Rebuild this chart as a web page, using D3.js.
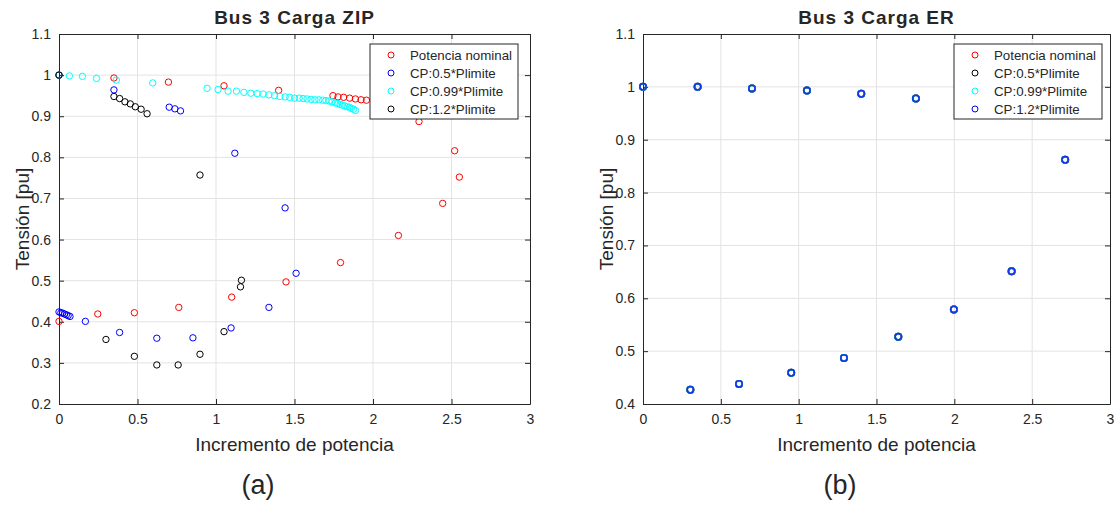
<!DOCTYPE html>
<html>
<head>
<meta charset="utf-8">
<script src="https://d3js.org/d3.v7.min.js"></script>
<style>
  body { margin: 0; background: #fff; }
  text { font-family: "Liberation Sans", Arial, sans-serif; fill: #262626; }
</style>
</head>
<body>
<div id="chart"></div>
<script>
var svgWidth = 1115;
var svgHeight = 505;

// legend labels
var seriesNames = ["Potencia nominal", "CP:0.5*Plimite", "CP:0.99*Plimite", "CP:1.2*Plimite"];
var zipColors = ["#ff0000", "#0000ff", "#00ffff", "#000000"];
var erColors = ["#ff0000", "#000000", "#00ffff", "#0000ff"];

var xTicks = [0, 0.5, 1, 1.5, 2, 2.5, 3];
var yTicksZip = [0.2, 0.3, 0.4, 0.5, 0.6, 0.7, 0.8, 0.9, 1, 1.1];
var yTicksEr = [0.4, 0.5, 0.6, 0.7, 0.8, 0.9, 1, 1.1];

// ZIP load - Potencia nominal
var nomX = [0, 0.35, 0.697, 1.051, 1.399, 1.745, 1.777, 1.813, 1.851, 1.888, 1.924, 1.958, 2.293, 2.52, 2.55, 2.444, 2.162, 1.793, 1.446, 1.10, 0.763, 0.48, 0.247, 0];
var nomY = [1.0, 0.993, 0.983, 0.974, 0.963, 0.950, 0.947, 0.946, 0.944, 0.942, 0.940, 0.939, 0.887, 0.816, 0.752, 0.688, 0.610, 0.544, 0.497, 0.460, 0.435, 0.422, 0.419, 0.401];

// ZIP load - CP 0.5
var cp05X = [0, 0.35, 0.702, 0.738, 0.774, 1.12, 1.44, 1.51, 1.337, 1.096, 0.853, 0.623, 0.386, 0.168, 0.07, 0.058, 0.047, 0.035, 0.023, 0.012, 0];
var cp05Y = [1.0, 0.964, 0.922, 0.918, 0.913, 0.810, 0.677, 0.518, 0.435, 0.385, 0.361, 0.360, 0.374, 0.401, 0.413, 0.415, 0.417, 0.419, 0.421, 0.422, 0.424];

// ZIP load - CP 0.99
var cp099X = [0, 0.066, 0.149, 0.239, 0.365, 0.597, 0.943, 1.013, 1.077, 1.13, 1.177, 1.222, 1.262, 1.30, 1.337, 1.373, 1.407, 1.44, 1.47, 1.50,
  1.53, 1.555, 1.58, 1.605, 1.63, 1.655, 1.68, 1.70, 1.72, 1.74, 1.76, 1.775, 1.79, 1.805, 1.82, 1.835, 1.85, 1.862, 1.875, 1.889];
var cp099Y = [1.0, 0.998, 0.997, 0.992, 0.988, 0.981, 0.968, 0.965, 0.961, 0.961, 0.958, 0.956, 0.955, 0.954, 0.952, 0.950, 0.948, 0.947, 0.946, 0.944,
  0.944, 0.943, 0.942, 0.941, 0.940, 0.940, 0.939, 0.938, 0.937, 0.935, 0.932, 0.931, 0.929, 0.927, 0.925, 0.923, 0.922, 0.919, 0.917, 0.914];

// ZIP load - CP 1.2
var cp12X = [0, 0.35, 0.386, 0.42, 0.454, 0.486, 0.523, 0.561, 0.898, 1.162, 1.156, 1.051, 0.898, 0.759, 0.623, 0.48, 0.299];
var cp12Y = [1.0, 0.948, 0.943, 0.935, 0.930, 0.923, 0.917, 0.906, 0.757, 0.501, 0.485, 0.376, 0.321, 0.295, 0.295, 0.316, 0.357];

// ER load - all four cases give the same curve
var erX = [0, 0.351, 0.70, 1.053, 1.402, 1.753, 2.712, 2.368, 1.997, 1.64, 1.291, 0.952, 0.617, 0.304];
var erY = [1.0, 1.0, 0.997, 0.993, 0.987, 0.978, 0.862, 0.651, 0.579, 0.527, 0.487, 0.459, 0.438, 0.427];

var svg = d3.select("#chart")
  .append("svg")
  .attr("width", svgWidth)
  .attr("height", svgHeight);

function zip(xs, ys) {
  return xs.map((x, i) => ({ x: x, y: ys[i] }));
}

function drawPanel(opt) {
  var g = svg.append("g")
    .attr("transform", `translate(${opt.left}, ${opt.top})`);
  var w = opt.width, h = opt.height;

  var x = d3.scaleLinear().domain([0, 3]).range([0, w]);
  var y = d3.scaleLinear().domain(opt.yDomain).range([h, 0]);

  // grid
  g.append("g").selectAll("line.gx")
    .data(xTicks.slice(1, -1))
    .enter().append("line")
    .attr("x1", d => x(d)).attr("x2", d => x(d))
    .attr("y1", 0).attr("y2", h)
    .attr("stroke", "#e3e3e3").attr("stroke-width", 1);
  g.append("g").selectAll("line.gy")
    .data(opt.yTicks.slice(1, -1))
    .enter().append("line")
    .attr("x1", 0).attr("x2", w)
    .attr("y1", d => y(d)).attr("y2", d => y(d))
    .attr("stroke", "#e3e3e3").attr("stroke-width", 1);

  // axes, inward ticks on all four sides
  var fmt = d3.format("");
  var bottom = g.append("g").attr("transform", `translate(0, ${h})`)
    .call(d3.axisBottom(x).tickValues(xTicks).tickFormat(fmt).tickSizeInner(-5).tickSizeOuter(0).tickPadding(10));
  var left = g.append("g")
    .call(d3.axisLeft(y).tickValues(opt.yTicks).tickFormat(fmt).tickSizeInner(-5).tickSizeOuter(0).tickPadding(8));
  var top = g.append("g")
    .call(d3.axisTop(x).tickValues(xTicks).tickFormat("").tickSizeInner(-5).tickSizeOuter(0));
  var right = g.append("g").attr("transform", `translate(${w}, 0)`)
    .call(d3.axisRight(y).tickValues(opt.yTicks).tickFormat("").tickSizeInner(-5).tickSizeOuter(0));

  [bottom, left, top, right].forEach(function (a) {
    a.selectAll("path, line").attr("stroke", "#262626");
    a.selectAll("text")
      .style("font-family", "'Liberation Sans', Arial, sans-serif")
      .style("font-size", "14px")
      .attr("fill", "#262626");
  });

  // series
  opt.series.forEach(function (s) {
    g.append("g").selectAll("circle")
      .data(zip(s.x, s.y))
      .enter().append("circle")
      .attr("cx", d => x(d.x))
      .attr("cy", d => y(d.y))
      .attr("r", opt.r)
      .attr("fill", "none")
      .attr("stroke", s.color)
      .attr("stroke-width", opt.sw);
  });

  // title
  g.append("text")
    .attr("x", w / 2).attr("y", -10)
    .attr("text-anchor", "middle")
    .style("font-size", "19px").style("font-weight", "bold")
    .style("letter-spacing", "1px")
    .attr("fill", "#000")
    .text(opt.title);

  // axis labels
  g.append("text")
    .attr("x", w / 2).attr("y", h + 47)
    .attr("text-anchor", "middle")
    .style("font-size", "19px")
    .text("Incremento de potencia");

  g.append("text")
    .attr("transform", "rotate(-90)")
    .attr("x", -h / 2).attr("y", -30)
    .attr("text-anchor", "middle")
    .style("font-size", "19px")
    .text("Tensión [pu]");

  // legend
  var lg = g.append("g").attr("transform", `translate(${opt.legX}, 10)`);
  lg.append("rect")
    .attr("width", 148).attr("height", 75)
    .attr("fill", "#fff").attr("stroke", "#262626").attr("stroke-width", 1);
  seriesNames.forEach(function (name, i) {
    lg.append("circle")
      .attr("cx", 21).attr("cy", 11 + i * 18)
      .attr("r", 3).attr("fill", "none")
      .attr("stroke", opt.legColors[i]).attr("stroke-width", 1);
    lg.append("text")
      .attr("x", 40).attr("y", 15.5 + i * 18)
      .style("font-size", "13.3px")
      .attr("fill", "#000")
      .text(name);
  });

  // sub caption
  svg.append("text")
    .attr("x", opt.capX).attr("y", 494)
    .attr("text-anchor", "middle")
    .style("font-size", "27px")
    .attr("fill", "#000")
    .text(opt.caption);
}

drawPanel({
  left: 59, top: 34, width: 471, height: 370,
  yDomain: [0.2, 1.1], yTicks: yTicksZip,
  title: "Bus 3 Carga ZIP",
  r: 3.2, sw: 1,
  legX: 311, legColors: zipColors,
  caption: "(a)", capX: 258,
  series: [
    { x: nomX, y: nomY, color: zipColors[0] },
    { x: cp05X, y: cp05Y, color: zipColors[1] },
    { x: cp099X, y: cp099Y, color: zipColors[2] },
    { x: cp12X, y: cp12Y, color: zipColors[3] }
  ]
});

drawPanel({
  left: 643, top: 34, width: 467, height: 370,
  yDomain: [0.4, 1.1], yTicks: yTicksEr,
  title: "Bus 3 Carga ER",
  r: 3.2, sw: 1.6,
  legX: 311, legColors: erColors,
  caption: "(b)", capX: 840,
  series: [
    { x: erX, y: erY, color: "#ff0000" },
    { x: erX, y: erY, color: "#000000" },
    { x: erX, y: erY, color: "#00ffff" },
    { x: erX, y: erY, color: "#1238e6" }
  ]
});
</script>
</body>
</html>
